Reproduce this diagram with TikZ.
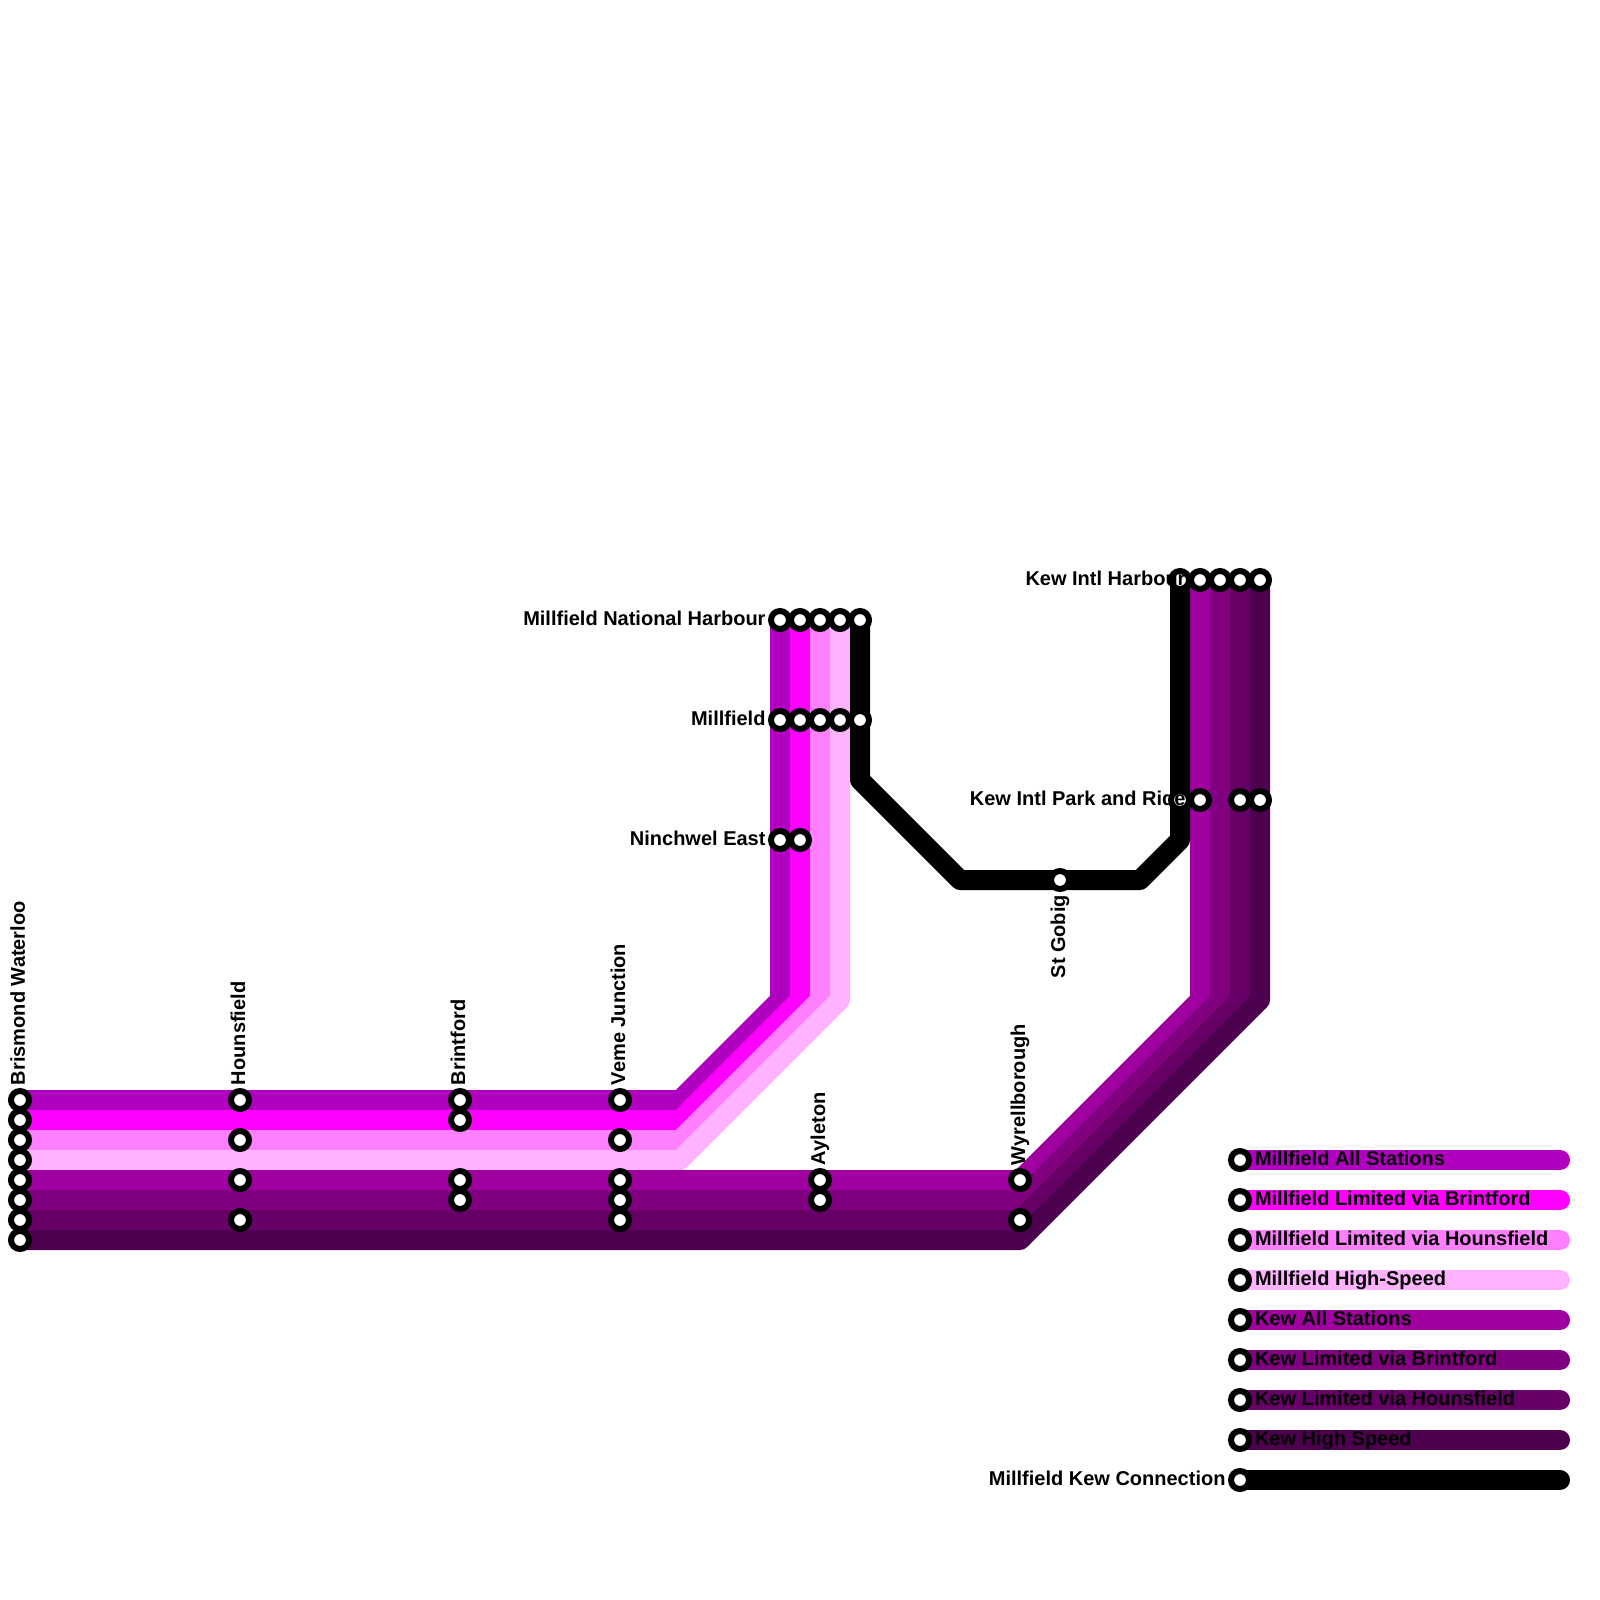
\documentclass[tikz,border=0pt]{standalone}
\usepackage{fontspec}
\setmainfont{Liberation Sans}
\usetikzlibrary{backgrounds}
\definecolor{cMA}{HTML}{B000C0}
\definecolor{cMB}{HTML}{FF00FF}
\definecolor{cMH}{HTML}{FF80FF}
\definecolor{cMS}{HTML}{FFB3FF}
\definecolor{cKA}{HTML}{A000A0}
\definecolor{cKB}{HTML}{800080}
\definecolor{cKH}{HTML}{660066}
\definecolor{cKS}{HTML}{4D004D}
\tikzset{
  route/.style={line width=10pt,line cap=round,line join=round},
  stn/.style={circle,draw=black,fill=white,line width=3pt,minimum size=9pt,inner sep=0pt,outer sep=0pt},
  lbl/.style={font=\fontsize{10pt}{12pt}\selectfont\bfseries,text=black,inner sep=0pt,outer sep=0pt},
  lleft/.style={lbl,anchor=base east},
  lright/.style={lbl,anchor=base west},
  lup/.style={lbl,anchor=base west,rotate=90},
  ldown/.style={lbl,anchor=base east,rotate=90}
}
\begin{document}
\begin{tikzpicture}[x=0.5pt,y=-0.5pt]
\useasboundingbox (0,0) rectangle (1600,1600);
% stations
\foreach \n/\y in {a/1100,b/1120,c/1140,d/1160,e/1180,f/1200,g/1220,h/1240}
  \node[stn] (bw\n) at (20,\y) {};
\foreach \n/\y in {a/1100,c/1140,e/1180,g/1220}
  \node[stn] (ho\n) at (240,\y) {};
\foreach \n/\y in {a/1100,b/1120,e/1180,f/1200}
  \node[stn] (br\n) at (460,\y) {};
\foreach \n/\y in {a/1100,c/1140,e/1180,f/1200,g/1220}
  \node[stn] (ve\n) at (620,\y) {};
\foreach \n/\y in {e/1180,f/1200}
  \node[stn] (ay\n) at (820,\y) {};
\foreach \n/\y in {e/1180,g/1220}
  \node[stn] (wy\n) at (1020,\y) {};
\node[stn] (sg) at (1060,880) {};
\foreach \n/\x in {a/780,b/800,c/820,d/840,x/860}
  \node[stn] (mn\n) at (\x,620) {};
\foreach \n/\x in {a/780,b/800,c/820,d/840,x/860}
  \node[stn] (mi\n) at (\x,720) {};
\foreach \n/\x in {a/780,b/800}
  \node[stn] (ni\n) at (\x,840) {};
\foreach \n/\x in {x/1180,e/1200,f/1220,g/1240,h/1260}
  \node[stn] (kh\n) at (\x,580) {};
\foreach \n/\x in {x/1180,e/1200,g/1240,h/1260}
  \node[stn] (kp\n) at (\x,800) {};
% legend stations
\foreach \n/\y in {a/1160,b/1200,c/1240,d/1280,e/1320,f/1360,g/1400,h/1440,x/1480}{
  \node[stn] (lg\n) at (1240,\y) {};
  \coordinate (le\n) at (1560,\y);
}
% bends
\coordinate (p1) at (680,1100); \coordinate (q1) at (780,1000);
\coordinate (p2) at (680,1120); \coordinate (q2) at (800,1000);
\coordinate (p3) at (680,1140); \coordinate (q3) at (820,1000);
\coordinate (p4) at (680,1160); \coordinate (q4) at (840,1000);
\coordinate (p5) at (1020,1180); \coordinate (q5) at (1200,1000);
\coordinate (p6) at (1020,1200); \coordinate (q6) at (1220,1000);
\coordinate (p7) at (1020,1220); \coordinate (q7) at (1240,1000);
\coordinate (p8) at (1020,1240); \coordinate (q8) at (1260,1000);
\coordinate (b1) at (860,780); \coordinate (b2) at (960,880);
\coordinate (b3) at (1140,880); \coordinate (b4) at (1180,840);
% lines
\begin{scope}[on background layer]
\draw[route,cMA] (bwa.center) -- (p1) -- (q1) -- (mna.center);
\draw[route,cMB] (bwb.center) -- (p2) -- (q2) -- (mnb.center);
\draw[route,cMH] (bwc.center) -- (p3) -- (q3) -- (mnc.center);
\draw[route,cMS] (bwd.center) -- (p4) -- (q4) -- (mnd.center);
\draw[route,cKA] (bwe.center) -- (p5) -- (q5) -- (khe.center);
\draw[route,cKB] (bwf.center) -- (p6) -- (q6) -- (khf.center);
\draw[route,cKH] (bwg.center) -- (p7) -- (q7) -- (khg.center);
\draw[route,cKS] (bwh.center) -- (p8) -- (q8) -- (khh.center);
\draw[route,black] (mnx.center) -- (b1) -- (b2) -- (b3) -- (b4) -- (khx.center);
\draw[route,cMA] (lga.center) -- (lea);
\draw[route,cMB] (lgb.center) -- (leb);
\draw[route,cMH] (lgc.center) -- (lec);
\draw[route,cMS] (lgd.center) -- (led);
\draw[route,cKA] (lge.center) -- (lee);
\draw[route,cKB] (lgf.center) -- (lef);
\draw[route,cKH] (lgg.center) -- (leg);
\draw[route,cKS] (lgh.center) -- (leh);
\draw[route,black] (lgx.center) -- (lex);
\end{scope}
% labels
\node[lup] (tbw) at (25,1085) {Brismond Waterloo};
\node[lup] (tho) at (245,1085) {Hounsfield};
\node[lup] (tbr) at (465,1085) {Brintford};
\node[lup] (tve) at (625,1085) {Veme Junction};
\node[lup] (tay) at (825,1165) {Ayleton};
\node[lup] (twy) at (1025,1165) {Wyrellborough};
\node[ldown] (tsg) at (1065,895) {St Gobig};
\node[lleft] (tmn) at (765.5,625) {Millfield National Harbour};
\node[lleft] (tmi) at (765.5,725) {Millfield};
\node[lleft] (tni) at (765.5,845) {Ninchwel East};
\node[lleft] (tkh) at (1185.5,585) {Kew Intl Harbour};
\node[lleft] (tkp) at (1185.5,805) {Kew Intl Park and Ride};
\node[lright] (tla) at (1255,1165) {Millfield All Stations};
\node[lright] (tlb) at (1255,1205) {Millfield Limited via Brintford};
\node[lright] (tlc) at (1255,1245) {Millfield Limited via Hounsfield};
\node[lright] (tld) at (1255,1285) {Millfield High-Speed};
\node[lright] (tle) at (1255,1325) {Kew All Stations};
\node[lright] (tlf) at (1255,1365) {Kew Limited via Brintford};
\node[lright] (tlg) at (1255,1405) {Kew Limited via Hounsfield};
\node[lright] (tlh) at (1255,1445) {Kew High Speed};
\node[lleft] (tlx) at (1225.5,1485) {Millfield Kew Connection};
\end{tikzpicture}
\end{document}
